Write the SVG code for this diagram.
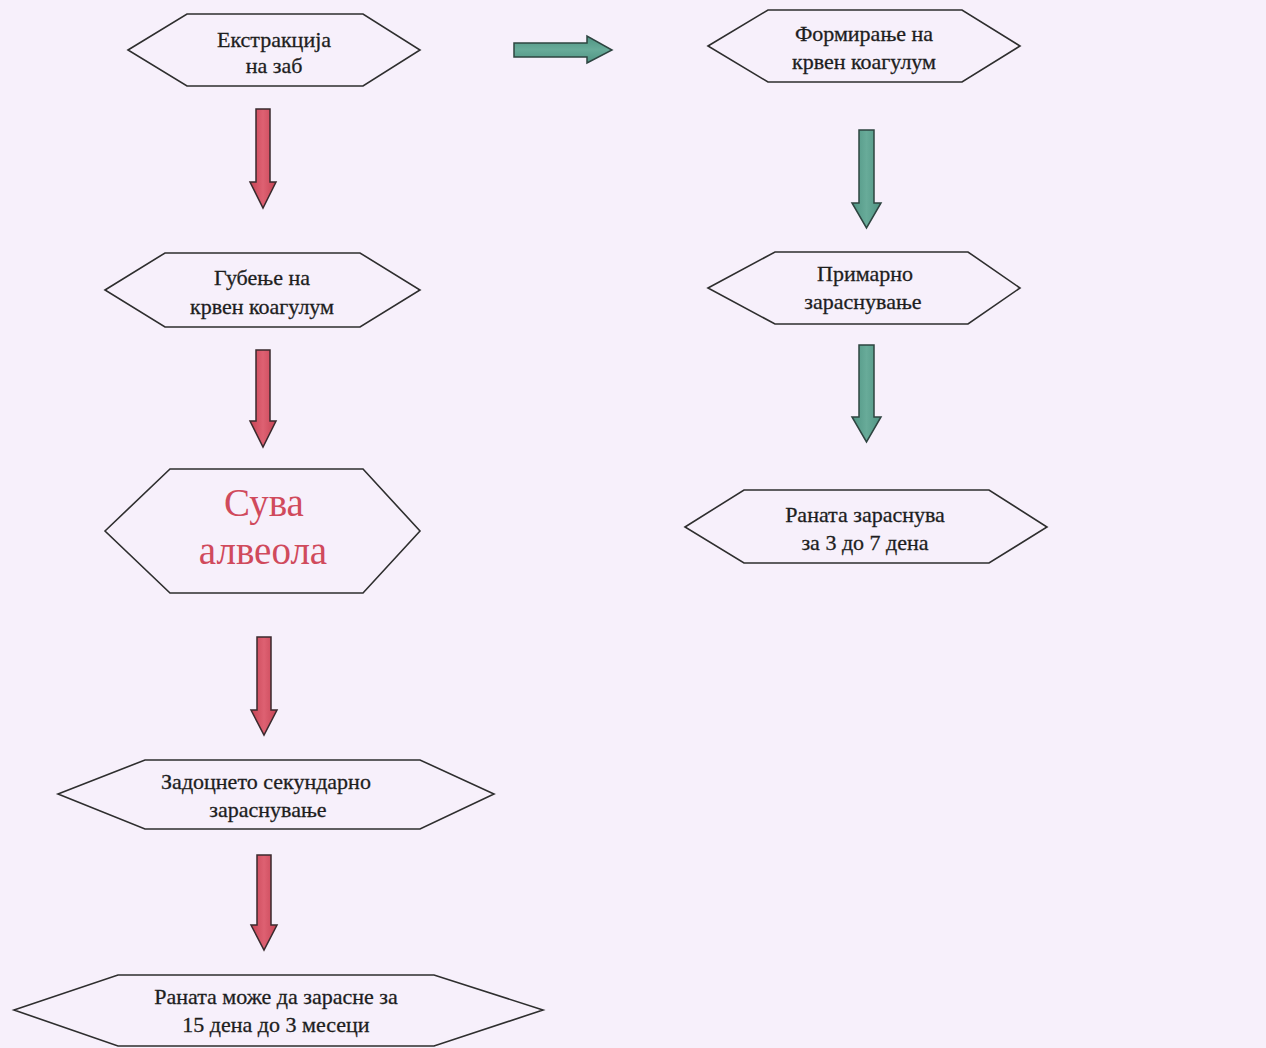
<svg xmlns="http://www.w3.org/2000/svg" width="1266" height="1048" viewBox="0 0 1266 1048">
  <defs>
    <linearGradient id="redGrad" x1="0" y1="0" x2="1" y2="0">
      <stop offset="0" stop-color="#c64455"/>
      <stop offset="0.5" stop-color="#de6172"/>
      <stop offset="1" stop-color="#c64455"/>
    </linearGradient>
    <linearGradient id="tealGradV" x1="0" y1="0" x2="1" y2="0">
      <stop offset="0" stop-color="#4f9483"/>
      <stop offset="0.5" stop-color="#68ab99"/>
      <stop offset="1" stop-color="#4f9483"/>
    </linearGradient>
    <linearGradient id="tealGradH" x1="0" y1="0" x2="0" y2="1">
      <stop offset="0" stop-color="#4f9483"/>
      <stop offset="0.5" stop-color="#68ab99"/>
      <stop offset="1" stop-color="#4f9483"/>
    </linearGradient>
  </defs>
  <style>
    .hex { fill: none; stroke: #2e2e2e; stroke-width: 1.6; stroke-linejoin: miter; }
    .lbl { font-family: "Liberation Serif", "Times New Roman", serif; font-size: 22px; fill: #1e1e1e; stroke: #1e1e1e; stroke-width: 0.3; text-anchor: middle; }
    .big { font-family: "Liberation Serif", "Times New Roman", serif; font-size: 39px; fill: #d04a5c; text-anchor: middle; }
    .red { fill: url(#redGrad); stroke: #3a2a2e; stroke-width: 1.5; stroke-linejoin: miter; }
    .tealv { fill: url(#tealGradV); stroke: #2e4440; stroke-width: 1.5; stroke-linejoin: miter; }
    .tealh { fill: url(#tealGradH); stroke: #2e4440; stroke-width: 1.5; stroke-linejoin: miter; }
  </style>
  <rect x="0" y="0" width="1266" height="1048" fill="#f7f0fb"/>

  <g id="connectors">
    <path class="red" d="M256,109 H270 V182 H276 L263,208 L250,182 H256 Z"/>
    <path class="red" d="M256,350 H270 V421 H276 L263,447 L250,421 H256 Z"/>
    <path class="red" d="M257,637 H271 V710 H277 L264,735 L251,710 H257 Z"/>
    <path class="red" d="M257,855 H271 V925 H277 L264,950 L251,925 H257 Z"/>
    <path class="tealh" d="M514,43 V57 H587 V63 L612,50 L587,36 V43 Z"/>
    <path class="tealv" d="M859,130 H874 V203 H881 L866.5,228 L852,203 H859 Z"/>
    <path class="tealv" d="M859,345 H874 V417 H881 L866.5,442 L852,417 H859 Z"/>
  </g>

  <g id="node-ekstrakcija">
    <polygon class="hex" points="128,50 187,14 363,14 420,50 363,86 187,86"/>
    <text class="lbl" x="274" y="47">Екстракција</text>
    <text class="lbl" x="274" y="73">на заб</text>
  </g>

  <g id="node-formiranje">
    <polygon class="hex" points="708,46 768,10 962,10 1020,46 962,82 768,82"/>
    <text class="lbl" x="864" y="41">Формирање на</text>
    <text class="lbl" x="864" y="69">крвен коагулум</text>
  </g>

  <g id="node-gubenje">
    <polygon class="hex" points="105,290 165,253 360,253 420,290 360,327 165,327"/>
    <text class="lbl" x="262" y="285">Губење на</text>
    <text class="lbl" x="262" y="314">крвен коагулум</text>
  </g>

  <g id="node-suva">
    <polygon class="hex" points="105,531 170,469 363,469 420,531 363,593 170,593"/>
    <text class="big" x="264" y="516">Сува</text>
    <text class="big" x="263" y="564">алвеола</text>
  </g>

  <g id="node-zadocneto">
    <polygon class="hex" points="58,794 145,760 420,760 494,794 420,829 145,829"/>
    <text class="lbl" x="266" y="789">Задоцнето секундарно</text>
    <text class="lbl" x="268" y="817">зараснување</text>
  </g>

  <g id="node-rana-mese">
    <polygon class="hex" points="14,1010 118,975 434,975 543,1010 434,1046 118,1046"/>
    <text class="lbl" x="276" y="1004">Раната може да зарасне за</text>
    <text class="lbl" x="276" y="1032">15 дена до 3 месеци</text>
  </g>

  <g id="node-primarno">
    <polygon class="hex" points="708,288 775,252 968,252 1020,288 968,324 775,324"/>
    <text class="lbl" x="865" y="281">Примарно</text>
    <text class="lbl" x="863" y="309">зараснување</text>
  </g>

  <g id="node-rana-dena">
    <polygon class="hex" points="685,527 744,490 989,490 1047,527 989,563 744,563"/>
    <text class="lbl" x="865" y="522">Раната зараснува</text>
    <text class="lbl" x="865" y="550">за 3 до 7 дена</text>
  </g>
</svg>
